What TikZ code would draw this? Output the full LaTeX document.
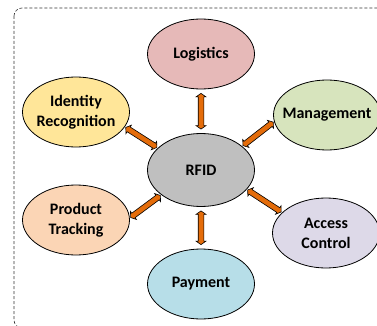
\documentclass[tikz,border=0pt]{standalone}
\usepackage{fontspec}
\setmainfont{Carlito}
\usetikzlibrary{shapes.geometric,shapes.arrows,calc}

\definecolor{logiFill}{HTML}{E6B9B8}
\definecolor{identFill}{HTML}{FFE699}
\definecolor{mgmtFill}{HTML}{D7E4BD}
\definecolor{rfidFill}{HTML}{BFBFBF}
\definecolor{prodFill}{HTML}{FBD5B5}
\definecolor{accFill}{HTML}{DDD9E8}
\definecolor{payFill}{HTML}{B7DEE8}
\definecolor{arrowOrange}{HTML}{E46C0A}

% fat two-headed arrow between two points, shortened by a gap at each end
\newcommand\linkarrow[4]{%
  \path let \p1=(#2), \p2=(#3),
    \n1={veclen(\x2-\x1,\y2-\y1)-2*#4},
    \n2={atan2(\y2-\y1,\x2-\x1)} in
    node[fatarrow, minimum height=\n1, rotate=\n2] (#1) at ($(\p1)!0.5!(\p2)$) {};}

\begin{document}
\begin{tikzpicture}[x=1pt,y=-1pt,
  topic/.style={ellipse, draw=black, line width=0.8pt,
    minimum width=107pt, minimum height=70pt,
    inner xsep=-8pt, inner ysep=0pt, align=center,
    font=\bfseries\fontsize{16}{20}\selectfont},
  fatarrow/.style={double arrow, draw=black, line width=0.6pt,
    fill=arrowOrange, inner xsep=0pt, inner ysep=2.5pt,
    minimum width=9.5pt, double arrow head extend=2.2pt,
    double arrow tip angle=110, outer sep=0pt}]
\useasboundingbox (0,0) rectangle (377,326);

% dashed frame
\draw[line width=0.6pt, dash pattern=on 3pt off 2pt, rounded corners=8pt, black!80]
  (14,8) rectangle (430,328);

% topics
\node[topic, fill=logiFill]  (logi) at (201,54)  {Logistics};
\node[topic, fill=identFill] (iden) at (76,112)  {Identity\\Recognition};
\node[topic, fill=mgmtFill]  (mgmt) at (327,115) {Management};
\node[topic, fill=rfidFill, minimum height=73pt] (rfid) at (201,170) {RFID};
\node[topic, fill=prodFill]  (prod) at (76,220)  {Product\\Tracking};
\node[topic, fill=accFill]   (acc)  at (326,233) {Access\\Control};
\node[topic, fill=payFill]   (pay)  at (201,284) {Payment};

% links to the hub
\linkarrow{aLogi}{logi.south}{rfid.north}{4pt}
\linkarrow{aIden}{iden.-17}{rfid.153}{1pt}
\linkarrow{aMgmt}{mgmt.187}{rfid.30}{1pt}
\linkarrow{aProd}{prod.2}{rfid.212}{1pt}
\linkarrow{aAcc}{acc.155}{rfid.-23}{1pt}
\linkarrow{aPay}{rfid.south}{pay.north}{4pt}
\end{tikzpicture}
\end{document}
